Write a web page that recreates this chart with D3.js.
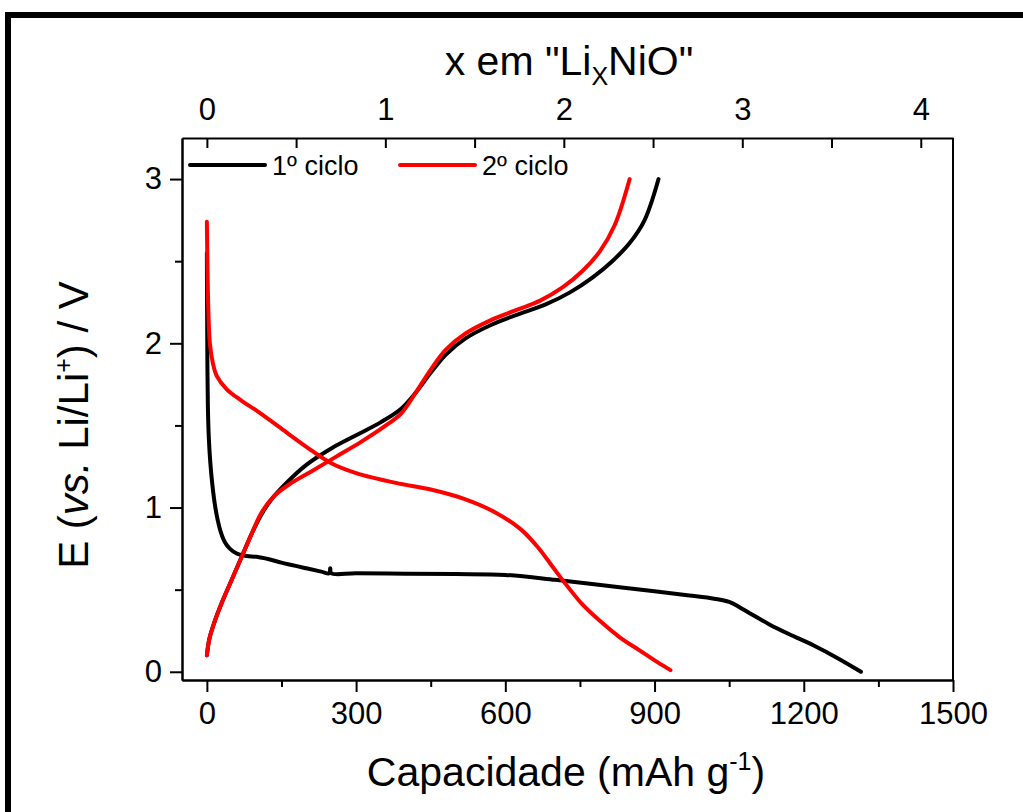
<!DOCTYPE html>
<html>
<head>
<meta charset="utf-8">
<script src="https://cdn.jsdelivr.net/npm/d3@7"></script>
<style>
  html, body { margin: 0; padding: 0; background: #fff; }
  svg { display: block; font-family: "Liberation Sans", Arial, sans-serif; }
  .axis path, .axis line { stroke: #000; stroke-width: 2; }
  .axis text { font-family: "Liberation Sans", Arial, sans-serif; fill: #000; }
</style>
</head>
<body>
<svg id="chart" width="1023" height="812"></svg>
<script>
"use strict";

// capacity (mAh/g) vs potential (V)
var cycle1Discharge = [
  [0, 2.55], [0.5, 2.2], [1, 1.9], [2, 1.62], [4, 1.42], [7, 1.27], [11, 1.14],
  [16, 1.02], [22, 0.92], [28, 0.85], [36, 0.79], [46, 0.75], [60, 0.72],
  [80, 0.705], [100, 0.70], [125, 0.685], [150, 0.665], [200, 0.63], [230, 0.61],
  [246, 0.60], [248, 0.63], [250, 0.60], [300, 0.60], [400, 0.597], [500, 0.595],
  [600, 0.59], [700, 0.56], [800, 0.525], [900, 0.49], [970, 0.465], [1020, 0.445],
  [1050, 0.425], [1070, 0.395], [1095, 0.35], [1130, 0.29], [1170, 0.23],
  [1220, 0.16], [1270, 0.08], [1315, 0.0]
];
var cycle1Charge = [
  [0, 0.10], [5, 0.2], [15, 0.3], [30, 0.42], [50, 0.56], [70, 0.70], [90, 0.84],
  [110, 0.96], [130, 1.05], [160, 1.15], [200, 1.26], [250, 1.36], [300, 1.44],
  [350, 1.52], [390, 1.60], [420, 1.70], [450, 1.82], [480, 1.93], [520, 2.03],
  [570, 2.11], [620, 2.17], [680, 2.235], [730, 2.31], [775, 2.40], [815, 2.50],
  [850, 2.61], [880, 2.75], [908, 3.0]
];
var cycle2Discharge = [
  [0, 2.74], [1, 2.5], [3, 2.2], [6, 2.0], [12, 1.88], [20, 1.80], [40, 1.72],
  [70, 1.65], [100, 1.59], [150, 1.48], [200, 1.37], [250, 1.27], [300, 1.21],
  [380, 1.15], [450, 1.11], [520, 1.05], [580, 0.97], [630, 0.87], [665, 0.76],
  [695, 0.64], [725, 0.52], [755, 0.41], [790, 0.31], [830, 0.21], [870, 0.13],
  [905, 0.06], [932, 0.01]
];
var cycle2Charge = [
  [0, 0.10], [5, 0.2], [15, 0.3], [30, 0.42], [50, 0.56], [70, 0.70], [90, 0.84],
  [110, 0.97], [135, 1.07], [170, 1.15], [210, 1.22], [260, 1.31], [310, 1.40],
  [360, 1.50], [390, 1.57], [420, 1.70], [450, 1.84], [480, 1.96], [520, 2.06],
  [570, 2.14], [620, 2.20], [670, 2.26], [715, 2.34], [755, 2.44], [790, 2.56],
  [820, 2.72], [850, 3.0]
];

var seriesNames = ["1\u00ba ciclo", "2\u00ba ciclo"];
var seriesColors = ["#000000", "#ff0000"];

var xTicks = [0, 300, 600, 900, 1200, 1500];
var xMinorTicks = [150, 450, 750, 1050, 1350];
var yTicks = [0, 1, 2, 3];
var yMinorTicks = [0.5, 1.5, 2.5];
var topTicks = [0, 1, 2, 3, 4];
var topMinorTicks = [0.5, 1.5, 2.5, 3.5];
var mAhPerLi = 358.8;   // 1 Li per NiO

var margin = { left: 182, right: 70, top: 138, bottom: 132 };
var width = 1023 - margin.left - margin.right;
var height = 812 - margin.top - margin.bottom;

var svg = d3.select("#chart");

// outer frame
svg.append("rect")
  .attr("x", 8).attr("y", 15)
  .attr("width", 1200).attr("height", 1000)
  .attr("fill", "none").attr("stroke", "#000").attr("stroke-width", 6);

var g = svg.append("g")
  .attr("transform", "translate(" + margin.left + "," + margin.top + ")");

var x = d3.scaleLinear().domain([-50, 1500]).range([0, width]);
var y = d3.scaleLinear().domain([-0.05, 3.25]).range([height, 0]);
var xTop = d3.scaleLinear().domain([-50 / mAhPerLi, 1500 / mAhPerLi]).range([0, width]);
var fmt = d3.format("d");

// bottom axis
g.append("g").attr("class", "axis")
  .attr("transform", "translate(0," + height + ")")
  .call(d3.axisBottom(x).tickValues(xMinorTicks).tickSize(7).tickSizeOuter(0).tickFormat(""));
var bx = g.append("g").attr("class", "axis")
  .attr("transform", "translate(0," + height + ")")
  .call(d3.axisBottom(x).tickValues(xTicks).tickSize(12).tickSizeOuter(0).tickPadding(10).tickFormat(fmt));
bx.selectAll("text").attr("font-size", 31);

// left axis
g.append("g").attr("class", "axis")
  .call(d3.axisLeft(y).tickValues(yMinorTicks).tickSize(7).tickSizeOuter(0).tickFormat(""));
var ly = g.append("g").attr("class", "axis")
  .call(d3.axisLeft(y).tickValues(yTicks).tickSize(12).tickSizeOuter(0).tickPadding(8).tickFormat(fmt));
ly.selectAll("text").attr("font-size", 31);

// top axis, ticks pointing inward
var tx = g.append("g").attr("class", "axis")
  .call(d3.axisTop(xTop).tickValues(topTicks.concat(topMinorTicks)).tickSize(-10).tickSizeOuter(0)
    .tickFormat(function (d) { return topTicks.indexOf(d) >= 0 ? fmt(d) : ""; }));
tx.selectAll("text").attr("font-size", 31).attr("y", -18);

// right axis line
g.append("line")
  .attr("x1", width).attr("x2", width).attr("y1", 0).attr("y2", height)
  .attr("stroke", "#000").attr("stroke-width", 2);

// curves
var line = d3.line()
  .x(function (d) { return x(d[0]); })
  .y(function (d) { return y(d[1]); })
  .curve(d3.curveCatmullRom.alpha(0.5));

var curves = [
  { data: cycle1Discharge, color: seriesColors[0] },
  { data: cycle1Charge, color: seriesColors[0] },
  { data: cycle2Discharge, color: seriesColors[1] },
  { data: cycle2Charge, color: seriesColors[1] }
];

g.selectAll("path.curve")
  .data(curves)
  .enter()
  .append("path")
  .attr("class", "curve")
  .attr("d", function (c) { return line(c.data); })
  .attr("fill", "none")
  .attr("stroke", function (c) { return c.color; })
  .attr("stroke-width", 4)
  .attr("stroke-linecap", "round")
  .attr("stroke-linejoin", "round");

// legend
var legend = g.selectAll("g.legend")
  .data(seriesNames)
  .enter()
  .append("g")
  .attr("class", "legend")
  .attr("transform", function (d, i) { return "translate(" + (8 + i * 210) + ",27)"; });
legend.append("line")
  .attr("x1", 0).attr("x2", 75)
  .attr("stroke", function (d, i) { return seriesColors[i]; })
  .attr("stroke-width", 4)
  .attr("stroke-linecap", "round");
legend.append("text")
  .attr("x", 82).attr("y", 10)
  .attr("font-size", 27)
  .text(function (d) { return d; });

// axis titles
svg.append("text")
  .attr("x", 566).attr("y", 786)
  .attr("text-anchor", "middle")
  .attr("font-size", 41)
  .call(function (t) {
    t.append("tspan").text("Capacidade (mAh g");
    t.append("tspan").attr("font-size", 25).attr("dy", -16).text("-1");
    t.append("tspan").attr("dy", 16).text(")");
  });

svg.append("text")
  .attr("x", 569).attr("y", 75)
  .attr("text-anchor", "middle")
  .attr("font-size", 41)
  .call(function (t) {
    t.append("tspan").text("x em \"Li");
    t.append("tspan").attr("font-size", 25).attr("dy", 10).text("X");
    t.append("tspan").attr("dy", -10).text("NiO\"");
  });

svg.append("text")
  .attr("transform", "translate(88,425) rotate(-90)")
  .attr("text-anchor", "middle")
  .attr("font-size", 42)
  .call(function (t) {
    t.append("tspan").text("E (");
    t.append("tspan").attr("font-style", "italic").text("vs.");
    t.append("tspan").text(" Li/Li");
    t.append("tspan").attr("font-size", 25).attr("dy", -16).text("+");
    t.append("tspan").attr("dy", 16).text(") / V");
  });
</script>
</body>
</html>
